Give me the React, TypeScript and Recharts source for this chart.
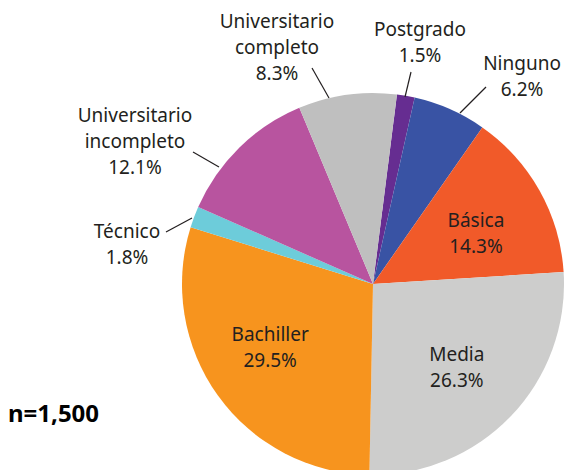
import { PieChart, Pie, Cell } from "recharts";

const categories = [
  "Postgrado",
  "Ninguno",
  "Básica",
  "Media",
  "Bachiller",
  "Técnico",
  "Universitario incompleto",
  "Universitario completo",
];
const shares = [1.5, 6.2, 14.3, 26.3, 29.5, 1.8, 12.1, 8.3];
const sliceColors = ["#662D91", "#3953A4", "#F15A29", "#CDCDCC", "#F7941E", "#6DCCDA", "#B8549F", "#BFBFBF"];
// label text lines (name may wrap)
const labelLines = [
  ["Postgrado"],
  ["Ninguno"],
  ["Básica"],
  ["Media"],
  ["Bachiller"],
  ["Técnico"],
  ["Universitario", "incompleto"],
  ["Universitario", "completo"],
];
const sampleNote = "n=1,500";

const data = categories.map((name, i) => ({ name, value: shares[i] }));

// outside labels: text anchor + leader line, relative to pie centre
const outside: Record<string, { x: number; y: number; line: number[] }> = {
  Postgrado: { x: 47, y: -248, line: [38, -212, 32, -187] },
  Ninguno: { x: 149, y: -214, line: [113, -197, 87, -171] },
  "Técnico": { x: -246, y: -46, line: [-207, -52, -181, -66] },
  "Universitario incompleto": { x: -238, y: -162, line: [-180, -132, -154, -117] },
  "Universitario completo": { x: -96, y: -256, line: [-61, -216, -44, -186] },
};
// inside labels: angle nudge (deg, clockwise) and radius
const inside: Record<string, { da: number; r: number }> = {
  "Básica": { da: 3.4, r: 114.5 },
  Media: { da: 1, r: 118 },
  Bachiller: { da: 4, r: 121 },
};

const FONT = "'Noto Sans', sans-serif";
const INK = "#231F20";
const LINE_H = 26;
const RADIAN = Math.PI / 180;

function renderLabel(props: any) {
  const { cx, cy, midAngle, index } = props;
  const name = categories[index];
  const lines = [...labelLines[index], `${shares[index].toFixed(1)}%`];
  const out = outside[name];
  if (out) {
    const [x1, y1, x2, y2] = out.line;
    return (
      <g>
        <line x1={cx + x1} y1={cy + y1} x2={cx + x2} y2={cy + y2} stroke={INK} strokeWidth={1.2} />
        <text x={cx + out.x} y={cy + out.y} textAnchor="middle" fontFamily={FONT} fontSize={19} fill={INK}>
          {lines.map((l, i) => (
            <tspan key={i} x={cx + out.x} dy={i === 0 ? 0 : LINE_H}>
              {l}
            </tspan>
          ))}
        </text>
      </g>
    );
  }
  const adj = inside[name] ?? { da: 0, r: 118 };
  const a = (midAngle - adj.da) * RADIAN;
  const x = cx + adj.r * Math.cos(-a);
  const y = cy + adj.r * Math.sin(-a);
  return (
    <text x={x} y={y - 6.5} textAnchor="middle" fontFamily={FONT} fontSize={19} fill={INK}>
      {lines.map((l, i) => (
        <tspan key={i} x={x} dy={i === 0 ? 0 : LINE_H}>
          {l}
        </tspan>
      ))}
    </text>
  );
}

export default function App() {
  return (
    <div style={{ position: "absolute", left: 0, top: 0, width: 564, height: 470, background: "#fff" }}>
      <PieChart width={564} height={470} margin={{ top: 0, right: 0, bottom: 0, left: 0 }}>
        <Pie
          data={data}
          dataKey="value"
          nameKey="name"
          cx={373}
          cy={284}
          outerRadius={191}
          startAngle={82.8}
          endAngle={-277.2}
          stroke="none"
          label={renderLabel}
          labelLine={false}
          isAnimationActive={false}
        >
          {data.map((d, i) => (
            <Cell key={d.name} fill={sliceColors[i]} />
          ))}
        </Pie>
      </PieChart>
      <div
        style={{
          position: "absolute",
          left: 8,
          top: 396,
          fontFamily: FONT,
          fontWeight: 700,
          fontSize: 24,
          color: "#000",
        }}
      >
        {sampleNote}
      </div>
    </div>
  );
}
